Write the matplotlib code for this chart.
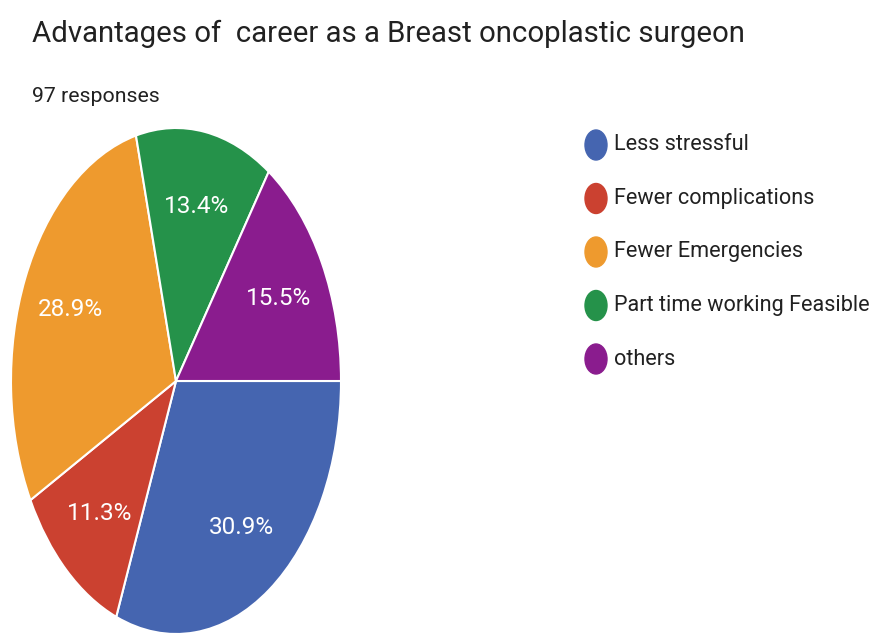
import matplotlib
matplotlib.use("Agg")
import matplotlib.pyplot as plt
from matplotlib.patches import Ellipse

# --------------------------------------------------
# Data
# --------------------------------------------------

title = "Advantages of  career as a Breast oncoplastic surgeon"
subtitle = "97 responses"

labels = [
    "Less stressful",
    "Fewer complications",
    "Fewer Emergencies",
    "Part time working Feasible",
    "others",
]
shares = [30.9, 11.3, 28.9, 13.4, 15.5]
colors = ["#4565b0", "#cb4130", "#ee9a2e", "#25924a", "#8a1c8e"]

plt.rcParams["font.family"] = ["Roboto", "DejaVu Sans"]

W, H = 875, 633
fig = plt.figure(figsize=(W / 100, H / 100), dpi=100)
fig.patch.set_facecolor("white")

# --------------------------------------------------
# Pie (stretched vertically, like the screenshot)
# --------------------------------------------------

cx, cy, rx, ry = 176, 381, 165, 253
ax = fig.add_axes([(cx - rx) / W, (H - cy - ry) / H, 2 * rx / W, 2 * ry / H])

wedges, _, autotexts = ax.pie(
    shares,
    colors=colors,
    startangle=0,
    counterclock=False,
    autopct=lambda p: f"{p:.1f}%",
    pctdistance=0.7,
    wedgeprops=dict(edgecolor="white", linewidth=1.5),
    textprops=dict(color="white", fontsize=17.5),
)
ax.set_aspect("auto")
ax.set_xlim(-1, 1)
ax.set_ylim(-1, 1)

# --------------------------------------------------
# Titles
# --------------------------------------------------

fig.text(32 / W, 1 - 34 / H, title, fontsize=21.2, color="#212121",
         va="center", ha="left")
fig.text(32 / W, 1 - 96 / H, subtitle, fontsize=15.3, color="#212121",
         va="center", ha="left")

# --------------------------------------------------
# Legend
# --------------------------------------------------

for i, (lab, col) in enumerate(zip(labels, colors)):
    y = 145 + i * 53.5
    fig.patches.append(Ellipse((596 / W, 1 - y / H), 22 / W, 30 / H,
                               transform=fig.transFigure, color=col))
    fig.text(614 / W, 1 - y / H, lab, fontsize=15.6, color="#212121",
             va="center", ha="left")

fig.savefig("out.png", dpi=100)
